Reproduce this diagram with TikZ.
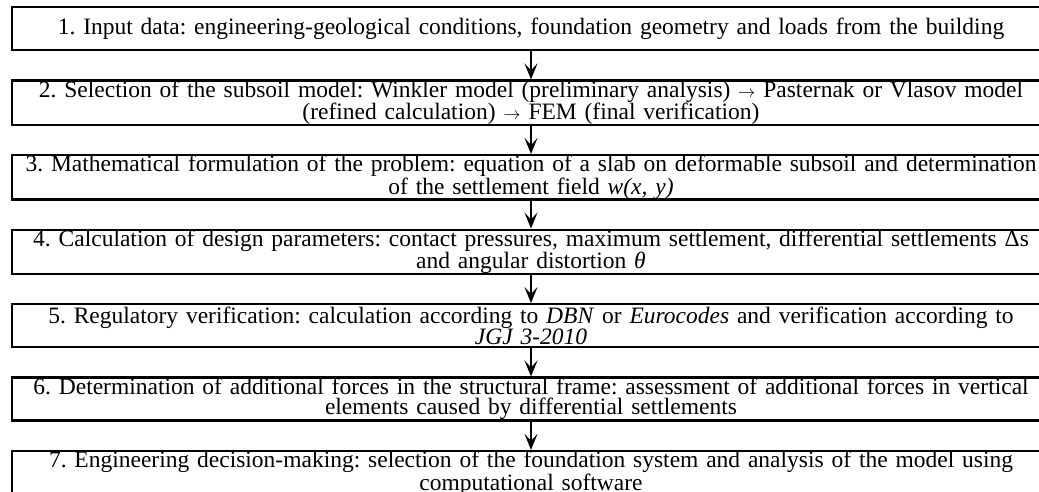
\documentclass[tikz,border=0pt]{standalone}
\usepackage{fontspec}
\setmainfont{Liberation Serif}
\usetikzlibrary{arrows.meta, positioning}
\newcommand{\flowarrow}{{\fontsize{18}{18}\selectfont$\rightarrow$}}

\begin{document}
\frenchspacing
\begin{tikzpicture}[>={Stealth[length=16pt, width=13pt, inset=7pt]},
  stepbox/.style={draw, line width=2.4pt, align=center, text width=1034pt,
    minimum width=1038pt, minimum height=43pt, inner xsep=2pt, inner ysep=0pt,
    font=\fontsize{23.5}{20}\selectfont},
  flow/.style={->, line width=2.2pt}]
  \useasboundingbox (0,0) rectangle (1039pt,-491pt);
  \node[stepbox, anchor=north] (s1) at (531pt,-6pt)
    {1. Input data: engineering-geological conditions, foundation geometry and loads from the building};
  \node[stepbox, below=28pt of s1] (s2)
    {2. Selection of the subsoil model: Winkler model (preliminary analysis) \flowarrow{} Pasternak or Vlasov model\\
     (refined calculation) \flowarrow{} FEM (final verification)};
  \node[stepbox, below=28pt of s2] (s3)
    {3. Mathematical formulation of the problem: equation of a slab on deformable subsoil and determination\\
     of the settlement field \textit{w(x, y)}};
  \node[stepbox, below=28pt of s3] (s4)
    {4. Calculation of design parameters: contact pressures, maximum settlement, differential settlements Δs\\
     and angular distortion \textit{θ}};
  \node[stepbox, below=28pt of s4] (s5)
    {5. Regulatory verification: calculation according to \textit{DBN} or \textit{Eurocodes} and verification according to\\
     \textit{JGJ 3-2010}};
  \node[stepbox, below=28pt of s5] (s6)
    {6. Determination of additional forces in the structural frame: assessment of additional forces in vertical\\
     elements caused by differential settlements};
  \node[stepbox, below=28pt of s6] (s7)
    {7. Engineering decision-making: selection of the foundation system and analysis of the model using\\
     computational software};
  \foreach \a/\b in {s1/s2, s2/s3, s3/s4, s4/s5, s5/s6, s6/s7} {
    \draw[flow] (\a) -- (\b);
  }
\end{tikzpicture}
\end{document}
